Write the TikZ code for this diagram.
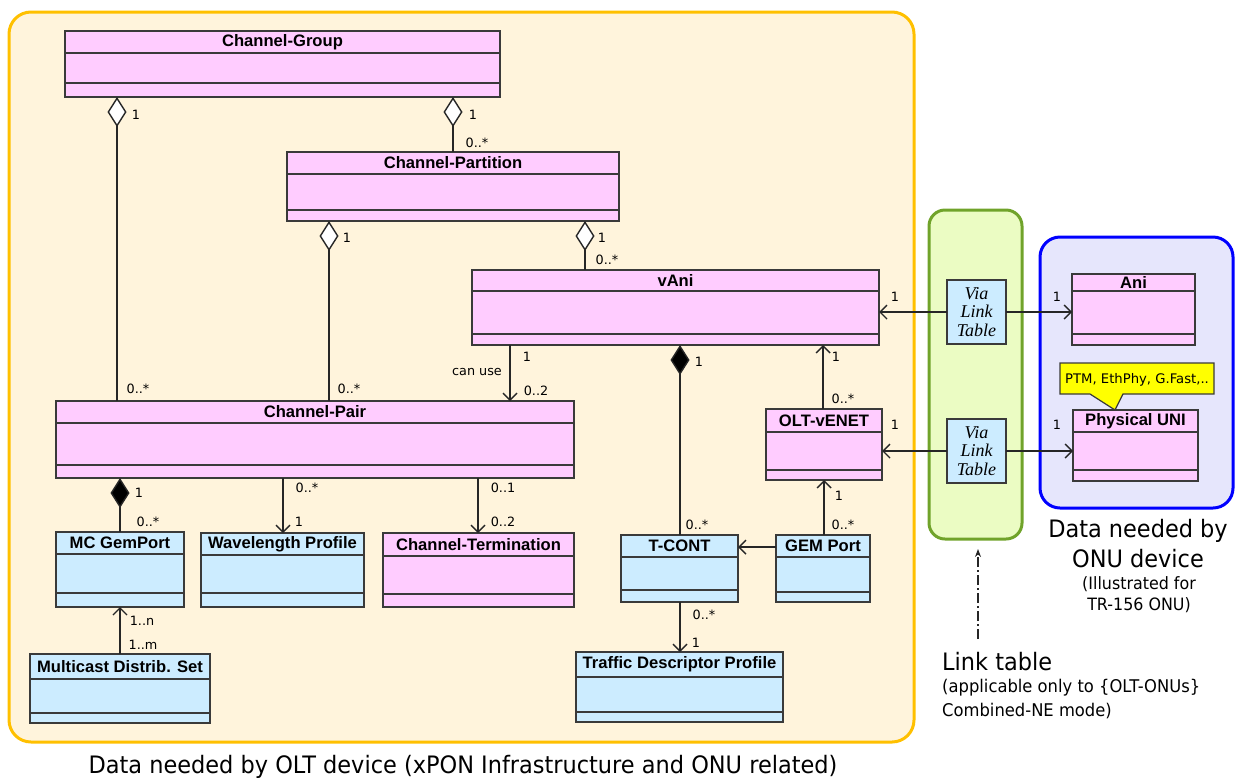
\documentclass[tikz,border=0pt]{standalone}
\usepackage{fontspec}
\setmainfont{Liberation Sans}
\newfontfamily\labfont{DejaVu Sans}
\newfontfamily\bigfont{DejaVu Sans}[FakeStretch=0.935]
\newfontfamily\viafont{Liberation Serif}
\usetikzlibrary{arrows.meta,calc}
\definecolor{oltfill}{HTML}{FFF4DC}
\definecolor{oltline}{HTML}{FFC000}
\definecolor{pinkc}{HTML}{FFCCFF}
\definecolor{bluec}{HTML}{CCECFF}
\definecolor{greenfill}{HTML}{EBFCC3}
\definecolor{greenline}{HTML}{70A32A}
\definecolor{onufill}{HTML}{E6E6FC}
\definecolor{onuline}{HTML}{0000FF}
\definecolor{boxline}{HTML}{3A3A3A}
\definecolor{callyellow}{HTML}{FFFF00}
\tikzset{
  classbox/.style={draw=boxline, line width=1.3pt, inner sep=0pt, outer sep=0pt, rectangle},
  divider/.style={draw=boxline, line width=1.3pt},
  ctitle/.style={font=\bfseries\fontsize{16.6}{18}\selectfont, inner sep=0pt},
  lab/.style={font=\labfont\fontsize{12.8}{14}\selectfont, inner sep=0pt},
  conn/.style={line width=1.4pt, draw=black!85},
  arr/.style={conn, -{Straight Barb[length=7pt,width=14pt]}},
  aggr/.style={conn, {Diamond[length=30pt,width=19pt,fill=white]}-},
  comp/.style={conn, {Diamond[length=30pt,width=19pt,fill=black]}-},
  container/.style={rectangle, line width=3pt, inner sep=0pt, outer sep=0pt, anchor=north west},
  viabox/.style={classbox, fill=bluec, minimum width=59pt, minimum height=64pt, align=center,
     font=\viafont\itshape\fontsize{18}{18.5}\selectfont},
  bigtxt/.style={font=\bigfont\fontsize{24}{30}\selectfont, inner sep=0pt, align=center},
  smalltxt/.style={font=\bigfont\fontsize{17}{21}\selectfont, inner sep=0pt, align=center},
  dashdotline/.style={line width=1.1pt, draw=black!85, dash pattern=on 10pt off 3pt on 2pt off 3pt, -{Stealth[length=8pt,width=6pt]}},
  callout/.style={draw=boxline, line width=1.2pt, fill=callyellow}
}
\newcommand\umlclass[9]{%
  \node[classbox, fill=#9, minimum width={(#4-#2)*1pt}, minimum height={(#5-#3)*1pt}, anchor=north west] (#1) at (#2,#3) {};
  \draw[divider] (#2,#6) -- (#4,#6);
  \draw[divider] (#2,#7) -- (#4,#7);
  \node[ctitle] (#1-t) at ({(#2+#4)/2},{(#3+#6)/2}) {#8};
}
\begin{document}
\begin{tikzpicture}[x=1pt,y=-1pt]
\useasboundingbox (0,0) rectangle (1238,780);
% containers
\node[container, draw=oltline, fill=oltfill, rounded corners=22pt, minimum width=905pt, minimum height=730pt] (olt) at (9,12) {};
\node[container, draw=greenline, fill=greenfill, rounded corners=16pt, minimum width=93pt, minimum height=329pt] (green) at (929,210) {};
\node[container, draw=onuline, fill=onufill, rounded corners=20pt, minimum width=193pt, minimum height=271pt] (onu) at (1040,237) {};
% classes
\umlclass{cg}{65}{31}{500}{97}{53}{83}{Channel-Group}{pinkc}
\umlclass{cpart}{287}{152}{619}{221}{174}{210}{Channel-Partition}{pinkc}
\umlclass{vani}{472}{270}{879}{345}{291}{334}{vAni}{pinkc}
\umlclass{cpair}{56}{401}{574}{478}{423}{465}{Channel-Pair}{pinkc}
\umlclass{mcg}{56}{532}{184}{607}{554}{593}{MC GemPort}{bluec}
\umlclass{wlp}{201}{533}{364}{607}{555}{593}{Wavelength Profile}{bluec}
\umlclass{ct}{383}{533}{574}{607}{556}{594}{Channel-Termination}{pinkc}
\umlclass{mds}{30}{654}{210}{723}{679}{713}{Multicast Distrib. Set}{bluec}
\umlclass{tcont}{621}{535}{738}{602}{557}{590}{T-CONT}{bluec}
\umlclass{gem}{776}{535}{870}{602}{557}{592}{GEM Port}{bluec}
\umlclass{olv}{766}{409}{882}{480}{432}{470}{OLT-vENET}{pinkc}
\umlclass{tdp}{576}{652}{783}{722}{677}{712}{Traffic Descriptor Profile}{bluec}
\umlclass{ani}{1072}{274}{1195}{345}{291}{334}{Ani}{pinkc}
\umlclass{puni}{1073}{410}{1198}{481}{432}{470}{Physical UNI}{pinkc}
% via link table boxes
\node[viabox] (via1) at (976.5,312) {Via\\Link\\Table};
\node[viabox] (via2) at (976.5,451) {Via\\Link\\Table};
% callout
\draw[callout] (1060,363) -- (1214,363) -- (1214,394) -- (1123,394) -- (1115,410) -- (1090,394) -- (1060,394) -- cycle;
\node[font=\labfont\fontsize{13.2}{15}\selectfont, inner sep=0pt] (calltext) at (1137,380) {PTM, EthPhy, G.Fast,..};
% connector x positions
\coordinate (xa) at (117,0);
\coordinate (xb) at (453,0);
\coordinate (xc) at (329,0);
\coordinate (xd) at (585,0);
\coordinate (xe) at (510,0);
\coordinate (xf) at (680,0);
\coordinate (xg) at (823,0);
\coordinate (xh) at (824,0);
\coordinate (xi) at (120,0);
\coordinate (xj) at (283,0);
\coordinate (xk) at (478,0);
\coordinate (yh) at (0,547);
% connectors
\draw[aggr] (cg.south -| xa) -- (cpair.north -| xa);
\draw[aggr] (cg.south -| xb) -- (cpart.north -| xb);
\draw[aggr] (cpart.south -| xc) -- (cpair.north -| xc);
\draw[aggr] (cpart.south -| xd) -- (vani.north -| xd);
\draw[arr] (vani.south -| xe) -- (cpair.north -| xe);
\draw[comp] (vani.south -| xf) -- (tcont.north -| xf);
\draw[arr] (olv.north -| xg) -- (vani.south -| xg);
\draw[arr] (gem.north -| xh) -- (olv.south -| xh);
\draw[arr] (gem.west |- yh) -- (tcont.east |- yh);
\draw[arr] (tcont.south -| xf) -- (tdp.north -| xf);
\draw[comp] (cpair.south -| xi) -- (mcg.north -| xi);
\draw[arr] (mds.north -| xi) -- (mcg.south -| xi);
\draw[arr] (cpair.south -| xj) -- (wlp.north -| xj);
\draw[arr] (cpair.south -| xk) -- (ct.north -| xk);
\draw[arr] (via1.west) -- (vani.east |- via1.west);
\draw[arr] (via1.east) -- (ani.west |- via1.east);
\draw[arr] (via2.west) -- (olv.east |- via2.west);
\draw[arr] (via2.east) -- (puni.west |- via2.east);
\coordinate (ltb) at (978,639);
\coordinate (ltt) at (978,549);
\draw[dashdotline] (ltb) -- (ltt);
% multiplicity labels
\node[lab] (m1) at (136,115) {1};
\node[lab] (m2) at (473,115) {1};
\node[lab] (m3) at (477,143) {0..*};
\node[lab] (m4) at (347,238) {1};
\node[lab] (m5) at (602,238) {1};
\node[lab] (m6) at (607,260) {0..*};
\node[lab] (m7) at (138,389) {0..*};
\node[lab] (m8) at (349,389) {0..*};
\node[lab] (m9) at (527,357) {1};
\node[lab] (m10) at (477,372) {can use};
\node[lab] (m11) at (536,391) {0..2};
\node[lab] (m12) at (699,362) {1};
\node[lab] (m13) at (697,525) {0..*};
\node[lab] (m14) at (836,357) {1};
\node[lab] (m15) at (843,399) {0..*};
\node[lab] (m16) at (839,496) {1};
\node[lab] (m17) at (843,525) {0..*};
\node[lab] (m18) at (895,297) {1};
\node[lab] (m19) at (1057,297) {1};
\node[lab] (m20) at (895,425) {1};
\node[lab] (m21) at (1057,425) {1};
\node[lab] (m22) at (139,493) {1};
\node[lab] (m23) at (148,522) {0..*};
\node[lab] (m24) at (307,488) {0..*};
\node[lab] (m25) at (299,522) {1};
\node[lab] (m26) at (503,488) {0..1};
\node[lab] (m27) at (503,522) {0..2};
\node[lab] (m28) at (142,621) {1..n};
\node[lab] (m29) at (143,645) {1..m};
\node[lab] (m30) at (704,615) {0..*};
\node[lab] (m31) at (696,643) {1};
% captions
\node[bigtxt] (oltcap) at (463,767) {Data needed by OLT device (xPON Infrastructure and ONU related)};
\node[bigtxt] (onucap) at (1138,544) {Data needed by\\ONU device};
\node[smalltxt] (onusub) at (1139,595) {(Illustrated for\\TR-156 ONU)};
\node[bigtxt, anchor=west] (linkcap) at (942,662) {Link table};
\node[smalltxt, anchor=west, font=\bigfont\fontsize{17.5}{21}\selectfont] (linka) at (942,688) {(applicable only to \{OLT-ONUs\}};
\node[smalltxt, anchor=west, font=\bigfont\fontsize{17.5}{21}\selectfont] (linkb) at (942,711) {Combined-NE mode)};
\end{tikzpicture}
\end{document}
